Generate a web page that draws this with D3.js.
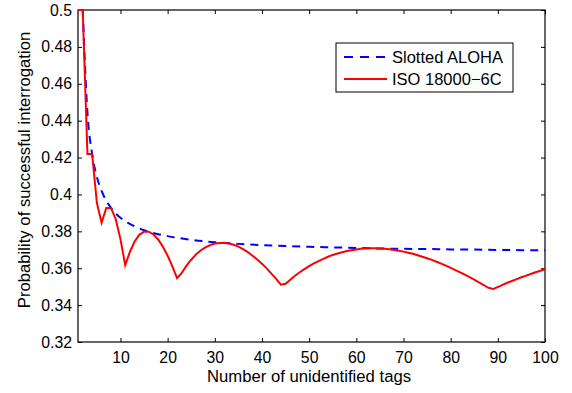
<!DOCTYPE html>
<html>
<head>
<meta charset="utf-8">
<script src="https://cdn.jsdelivr.net/npm/d3@7"></script>
<style>
  body { margin: 0; background: #fff; }
  svg text { font-family: "Liberation Sans", Arial, sans-serif; fill: #000; }
</style>
</head>
<body>
<svg width="572" height="393"></svg>
<script>
// ---- data ----
let alohaN = [2, 3, 4, 5, 6, 7, 8, 9, 10, 11, 12, 13, 14, 15, 16, 17, 18, 19, 20,
              25, 30, 35, 40, 45, 50, 55, 60, 65, 70, 75, 80, 85, 90, 95, 100];
let alohaP = [0.5, 0.4444, 0.4219, 0.4096, 0.4019, 0.3966, 0.3927, 0.3897, 0.3874, 0.3855,
              0.3840, 0.3827, 0.3816, 0.3806, 0.3798, 0.3791, 0.3784, 0.3779, 0.3774,
              0.3754, 0.3741, 0.3732, 0.3725, 0.3720, 0.3716, 0.3713, 0.3710, 0.3707,
              0.3705, 0.3704, 0.3702, 0.3701, 0.3699, 0.3698, 0.3697];

let isoN = d3.range(1, 101);
let isoP = [
  0.5, 0.5, 0.4219, 0.4219, 0.3955, 0.3847, 0.3927, 0.3927, 0.3866, 0.3758,
  0.3617, 0.3688, 0.3745, 0.3781, 0.3798, 0.3798, 0.3783, 0.3756, 0.3716, 0.3668,
  0.3610, 0.3546, 0.3575, 0.3614, 0.3646, 0.3674, 0.3696, 0.3713, 0.3725, 0.3734,
  0.3737, 0.3737, 0.3734, 0.3727, 0.3717, 0.3703, 0.3687, 0.3668, 0.3647, 0.3624,
  0.3599, 0.3571, 0.3542, 0.3511, 0.3516, 0.3538, 0.3559, 0.3578, 0.3595, 0.3611,
  0.3626, 0.3639, 0.3651, 0.3662, 0.3672, 0.3680, 0.3687, 0.3693, 0.3698, 0.3702,
  0.3705, 0.3707, 0.3708, 0.3708, 0.3707, 0.3705, 0.3703, 0.3699, 0.3695, 0.3690,
  0.3684, 0.3678, 0.3670, 0.3662, 0.3654, 0.3645, 0.3635, 0.3625, 0.3614, 0.3602,
  0.3590, 0.3578, 0.3565, 0.3552, 0.3538, 0.3523, 0.3509, 0.3494, 0.3487, 0.3498,
  0.3510, 0.3521, 0.3531, 0.3541, 0.3551, 0.3560, 0.3569, 0.3578, 0.3586, 0.3594
];

let xTicks = [10, 20, 30, 40, 50, 60, 70, 80, 90, 100];
let yTicks = [0.32, 0.34, 0.36, 0.38, 0.4, 0.42, 0.44, 0.46, 0.48, 0.5];
let seriesNames = ["Slotted ALOHA", "ISO 18000\u22126C"];

// ---- layout ----
let margin = {top: 10, right: 27, bottom: 51, left: 78},
    width = 572 - margin.left - margin.right,
    height = 393 - margin.top - margin.bottom;

var svg = d3.select('svg');
let plot = svg.append('g')
    .attr('transform', `translate(${margin.left}, ${margin.top})`);

var x = d3.scaleLinear().domain([1, 100]).range([0, width]);
var y = d3.scaleLinear().domain([0.32, 0.5]).range([height, 0]);

svg.append('defs').append('clipPath').attr('id', 'clip')
  .append('rect').attr('x', 0).attr('y', -1).attr('width', width).attr('height', height + 1);

// axes (ticks pointing inward, mirrored on top/right)
var fmtY = d => String(+d.toFixed(2));
plot.append('g')
    .attr('transform', `translate(0, ${height})`)
    .call(d3.axisBottom(x).tickValues(xTicks).tickSizeInner(-4).tickSizeOuter(0).tickPadding(10))
    .call(g => g.selectAll('text').attr('font-size', 15.8));
plot.append('g')
    .call(d3.axisTop(x).tickValues(xTicks).tickSizeInner(-4).tickSizeOuter(0).tickFormat(''));
plot.append('g')
    .call(d3.axisLeft(y).tickValues(yTicks).tickFormat(fmtY).tickSizeInner(-4).tickSizeOuter(0).tickPadding(6))
    .call(g => g.selectAll('text').attr('font-size', 15.8));
plot.append('g')
    .attr('transform', `translate(${width}, 0)`)
    .call(d3.axisRight(y).tickValues(yTicks).tickSizeInner(-4).tickSizeOuter(0).tickFormat(''));
plot.selectAll('.domain').remove();
plot.selectAll('.tick line').attr('stroke', '#000');

plot.append('rect')
    .attr('x', 0).attr('y', 0)
    .attr('width', width).attr('height', height)
    .attr('fill', 'none').attr('stroke', '#000').attr('stroke-width', 1.2);

// lines
var alohaData = alohaN.map((n, i) => [n, alohaP[i]]);
var isoData = isoN.map((n, i) => [n, isoP[i]]);

var lines = plot.append('g').attr('clip-path', 'url(#clip)');
lines.append('path')
    .datum(alohaData)
    .attr('fill', 'none')
    .attr('stroke', '#0000ff')
    .attr('stroke-width', 2)
    .attr('stroke-dasharray', '8,6')
    .attr('d', d3.line().x(d => x(d[0])).y(d => y(d[1])).curve(d3.curveMonotoneX));
lines.append('path')
    .datum(isoData)
    .attr('fill', 'none')
    .attr('stroke', '#ff0000')
    .attr('stroke-width', 2)
    .attr('d', d3.line().x(d => x(d[0])).y(d => y(d[1])));

// axis labels
svg.append('text')
    .attr('x', 309)
    .attr('y', 382)
    .attr('text-anchor', 'middle')
    .attr('font-size', 16.7)
    .text('Number of unidentified tags');
svg.append('text')
    .attr('transform', `translate(30, 170) rotate(-90)`)
    .attr('text-anchor', 'middle')
    .attr('font-size', 16.7)
    .text('Probability of successful interrogation');

// legend
let legend = svg.append('g').attr('transform', 'translate(336, 43)');
legend.append('rect')
    .attr('width', 177).attr('height', 49)
    .attr('fill', '#fff').attr('stroke', '#000').attr('stroke-width', 1);
seriesNames.forEach((name, i) => {
    let ly = 14 + i * 22;
    legend.append('line')
        .attr('x1', 8).attr('x2', 51).attr('y1', ly).attr('y2', ly)
        .attr('stroke', i == 0 ? '#0000ff' : '#ff0000')
        .attr('stroke-width', 2)
        .attr('stroke-dasharray', i == 0 ? '9,7' : null);
    legend.append('text')
        .attr('x', 56).attr('y', ly + 6)
        .attr('font-size', 16.5)
        .text(name);
});
</script>
</body>
</html>
